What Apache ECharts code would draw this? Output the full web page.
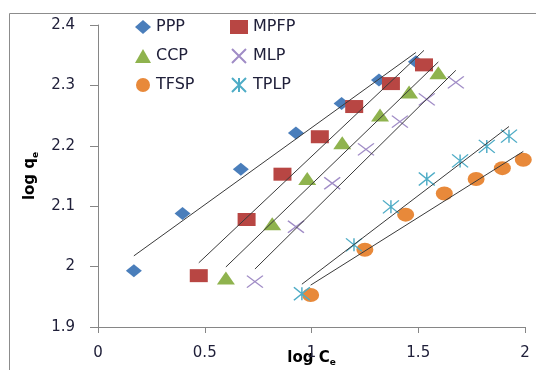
<!DOCTYPE html>
<html>
<head>
<meta charset="utf-8">
<script src="https://cdn.jsdelivr.net/npm/echarts@6/dist/echarts.min.js"></script>
<style>
  html, body { margin: 0; padding: 0; background: #fff; overflow: hidden; }
  #chart { width: 536px; height: 370px; }
</style>
</head>
<body>
<div id="chart"></div>
<script>
// Freundlich isotherm data: log Ce vs log qe for six adsorbents
var pppX  = [0.168, 0.396, 0.669, 0.927, 1.141, 1.316, 1.489];
var pppY  = [1.993, 2.088, 2.161, 2.221, 2.270, 2.309, 2.339];
var mpfpX = [0.472, 0.696, 0.864, 1.039, 1.200, 1.372, 1.527];
var mpfpY = [1.985, 2.078, 2.153, 2.215, 2.265, 2.303, 2.334];
var ccpX  = [0.599, 0.816, 0.980, 1.144, 1.321, 1.457, 1.594];
var ccpY  = [1.981, 2.071, 2.146, 2.205, 2.251, 2.289, 2.321];
var mlpX  = [0.735, 0.927, 1.097, 1.255, 1.414, 1.540, 1.676];
var mlpY  = [1.975, 2.066, 2.138, 2.194, 2.240, 2.277, 2.305];
var tfspX = [0.996, 1.250, 1.441, 1.622, 1.771, 1.894, 1.992];
var tfspY = [1.953, 2.028, 2.086, 2.121, 2.145, 2.163, 2.177];
var tplpX = [0.955, 1.199, 1.372, 1.540, 1.696, 1.821, 1.925];
var tplpY = [1.955, 2.036, 2.099, 2.145, 2.175, 2.199, 2.216];

var xTicks = { min: 0, max: 2, step: 0.5 };
var yTicks = { min: 1.9, max: 2.4, step: 0.1 };

var FONT = 'DejaVu Sans';
var TEXT = '#20203a';

var xSym = 'path://M0,0L10,10M10,0L0,10';
var starSym = 'path://M0,0L10,10M10,0L0,10M5,0L5,10';

var groups = [
  { name: 'PPP',  x: pppX,  y: pppY,  color: '#4a7ebb', symbol: 'diamond',  size: [16, 13] },
  { name: 'MPFP', x: mpfpX, y: mpfpY, color: '#b84643', symbol: 'rect',     size: [18, 13] },
  { name: 'CCP',  x: ccpX,  y: ccpY,  color: '#8fb34e', symbol: 'triangle', size: [18, 13] },
  { name: 'MLP',  x: mlpX,  y: mlpY,  color: '#a08cc6', symbol: xSym,       size: [16, 12], stroke: true },
  { name: 'TFSP', x: tfspX, y: tfspY, color: '#e8893a', symbol: 'circle',   size: [17, 14] },
  { name: 'TPLP', x: tplpX, y: tplpY, color: '#4eacc6', symbol: starSym,    size: [16, 13], stroke: true }
];

function pairs(xs, ys) {
  return xs.map(function (v, i) { return [v, ys[i]]; });
}

// least-squares straight line over the span of the data
function fitLine(xs, ys) {
  var n = xs.length, sx = 0, sy = 0, sxx = 0, sxy = 0;
  for (var i = 0; i < n; i++) {
    sx += xs[i]; sy += ys[i]; sxx += xs[i] * xs[i]; sxy += xs[i] * ys[i];
  }
  var b = (n * sxy - sx * sy) / (n * sxx - sx * sx);
  var a = (sy - b * sx) / n;
  var x0 = Math.min.apply(null, xs), x1 = Math.max.apply(null, xs);
  return [[x0, a + b * x0], [x1, a + b * x1]];
}

var series = [];
groups.forEach(function (g) {
  series.push({
    name: g.name,
    type: 'scatter',
    data: pairs(g.x, g.y),
    symbol: g.symbol,
    symbolSize: g.size,
    z: 2,
    itemStyle: g.stroke
      ? { color: g.color, borderColor: g.color, borderWidth: 1.3, opacity: 1 }
      : { color: g.color, opacity: 1 }
  });
});
groups.forEach(function (g) {
  series.push({
    name: g.name + ' fit',
    type: 'line',
    data: fitLine(g.x, g.y),
    showSymbol: false,
    symbol: 'none',
    silent: true,
    z: 3,
    lineStyle: { color: '#3a3a3a', width: 1 }
  });
});

var legendText = { fontFamily: FONT, fontSize: 16, color: TEXT, lineHeight: 14 };

var option = {
  backgroundColor: '#ffffff',
  animation: false,
  grid: { left: 98, right: 11, top: 25, bottom: 43, containLabel: false, outerBoundsMode: 'none' },
  graphic: [{
    type: 'rect',
    shape: { x: 9.5, y: 13.5, width: 700, height: 500 },
    style: { fill: 'none', stroke: '#8c8c8c', lineWidth: 1 },
    silent: true,
    z: -1
  }],
  legend: [{
    data: ['PPP', 'CCP', 'TFSP'],
    orient: 'vertical',
    left: 135, top: 19,
    padding: 0,
    itemWidth: 16, itemHeight: 14,
    itemGap: 13,
    textStyle: legendText
  }, {
    data: ['MPFP', 'MLP', 'TPLP'],
    orient: 'vertical',
    left: 230, top: 19,
    padding: 0,
    itemWidth: 18, itemHeight: 14,
    itemGap: 13,
    textStyle: legendText
  }],
  xAxis: {
    type: 'value',
    min: xTicks.min, max: xTicks.max, interval: xTicks.step,
    name: '{m|log C}{s|e}',
    nameLocation: 'middle',
    nameGap: 22,
    nameMoveOverlap: false,
    nameTextStyle: {
      rich: {
        m: { fontFamily: FONT, fontSize: 15, fontWeight: 'bold', color: '#000', lineHeight: 18 },
        s: { fontFamily: FONT, fontSize: 9, fontWeight: 'bold', color: '#000', verticalAlign: 'bottom', lineHeight: 18 }
      }
    },
    splitLine: { show: false },
    axisLine: { onZero: false, lineStyle: { color: '#868686', width: 1 } },
    axisTick: { show: true, inside: false, length: 6, lineStyle: { color: '#868686' } },
    axisLabel: { margin: 19, fontFamily: FONT, fontSize: 15, color: TEXT }
  },
  yAxis: {
    type: 'value',
    min: yTicks.min, max: yTicks.max, interval: yTicks.step,
    name: '{m|log q}{s|e}',
    nameLocation: 'middle',
    nameGap: 58,
    nameRotate: 90,
    nameMoveOverlap: false,
    nameTextStyle: {
      rich: {
        m: { fontFamily: FONT, fontSize: 15, fontWeight: 'bold', color: '#000' },
        s: { fontFamily: FONT, fontSize: 9, fontWeight: 'bold', color: '#000', verticalAlign: 'bottom', padding: [10, 0, 0, 0] }
      }
    },
    splitLine: { show: false },
    axisLine: { show: true, onZero: false, lineStyle: { color: '#868686', width: 1 } },
    axisTick: { show: true, inside: false, length: 8, lineStyle: { color: '#868686' } },
    axisLabel: { margin: 23, fontFamily: FONT, fontSize: 15, color: TEXT }
  },
  series: series
};

var chart = echarts.init(document.getElementById('chart'), null, { renderer: 'canvas', width: 536, height: 370 });
chart.setOption(option);
</script>
</body>
</html>
